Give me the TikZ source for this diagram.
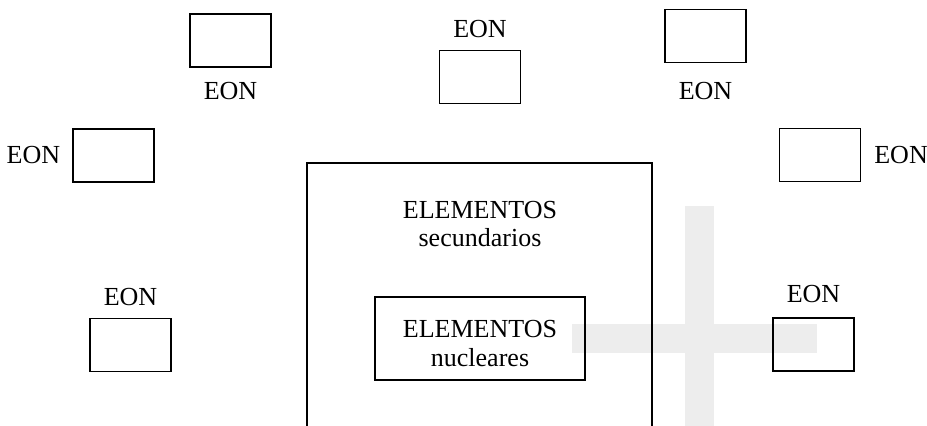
\documentclass[tikz,border=0pt]{standalone}
\usepackage{fontspec}
\setmainfont{Liberation Serif}
\usetikzlibrary{positioning}

\begin{document}
\begin{tikzpicture}[x=0.025cm,y=-0.025cm,
    every path/.style={line width=1.3pt},
    eonbox/.style={draw,rectangle,minimum width=2.025cm,minimum height=1.325cm,inner sep=0pt},
    eon/.style={inner sep=0pt,font=\fontsize{18.5}{20}\selectfont},
    elem/.style={inner sep=0pt,align=center,font=\fontsize{18.5}{20.5}\selectfont}]
          \useasboundingbox (0,0) rectangle (927,426);

          % la cruz gris de fondo
          \fill[black!7] (685,206) rectangle (714,426);
          \fill[black!7] (572,324) rectangle (817,353);

          \node[eonbox] (B1) at (230.5,40.5) {};
          \node[eonbox] (B2) at (113.5,155.5) {};
          \node[eonbox] (B3) at (480,77) {};
          \node[eonbox] (B4) at (705.5,36) {};
          \node[eonbox] (B5) at (820,155) {};
          \node[eonbox] (B6) at (130.5,345) {};
          \node[eonbox] (B7) at (813.5,344.5) {};

          \node[eon,below=0.325cm of B1] (L1) {EON};
          \node[eon,left=0.275cm of B2] (L2) {EON};
          \node[eon,above=0.275cm of B3] (L3) {EON};
          \node[eon,below=0.45cm of B4] (L4) {EON};
          \node[eon,right=0.3cm of B5] (L5) {EON};
          \node[eon,above=0.275cm of B6] (L6) {EON};
          \node[eon,above=0.325cm of B7] (L7) {EON};

          % elementos secundarios
          \draw (307,426) |- (652,163) -- (652,426);
          \node[elem] (S) at (480,224) {ELEMENTOS\\secundarios};

          % elementos nucleares
          \node[draw,rectangle,minimum width=5.25cm,minimum height=2.075cm,inner sep=0pt] (N) at (480,338.5) {};
          \node[elem] (NT) at ([yshift=-0.12cm]N.center) {ELEMENTOS\\nucleares};
        \end{tikzpicture}
\end{document}
